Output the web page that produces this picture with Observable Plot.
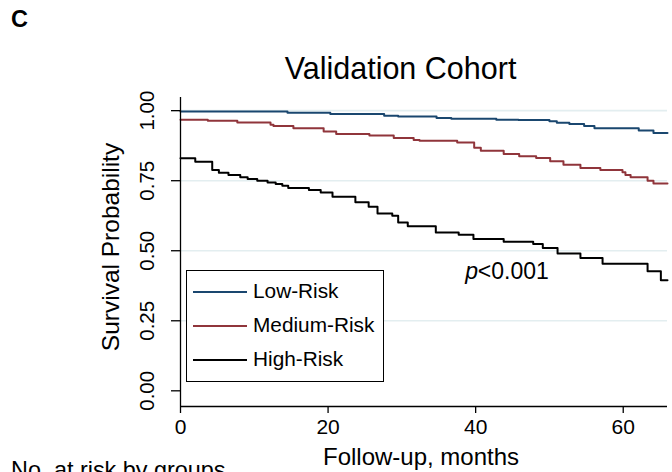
<!DOCTYPE html>
<html><head><meta charset="utf-8">
<script src="https://cdn.jsdelivr.net/npm/d3@7"></script>
<script src="https://cdn.jsdelivr.net/npm/@observablehq/plot@0.6"></script>
<style>
body{margin:0;background:#fff;}
#wrap{position:relative;width:672px;height:472px;overflow:hidden;font-family:"Liberation Sans",Arial,sans-serif;color:#000;}
.abs{position:absolute;white-space:nowrap;line-height:1;}
#legend{position:absolute;left:186px;top:270px;width:196px;height:110px;border:1.3px solid #000;background:#fff;}
.item{position:absolute;left:6px;height:21px;}
.sw{position:absolute;left:0;top:10px;width:54px;height:2px;}
.lt{position:absolute;left:60px;top:0;font-size:20.8px;line-height:1;white-space:nowrap;}
</style></head><body><div id="wrap"></div>
<script>
const panelLetter = "C";
const chartTitle = "Validation Cohort";
const yTitle = "Survival Probability";
const xTitle = "Follow-up, months";
const pText = "<0.001";
const footText = "No. at risk by groups";

const groups = ["Low-Risk", "Medium-Risk", "High-Risk"];
const groupColors = ["#1a476f", "#90353b", "#000000"];

const lowRiskMonths = [0, 14.5, 20.3, 27.6, 29.5, 34.7, 36.7, 42.8, 45.8, 50.0, 51.0, 52.7, 54.7, 56.1, 62.1, 64.1];
const lowRiskSurv   = [0.997, 0.993, 0.988, 0.982, 0.979, 0.974, 0.971, 0.968, 0.967, 0.962, 0.957, 0.952, 0.945, 0.937, 0.929, 0.920];

const medRiskMonths = [0, 3.7, 7.7, 12.2, 12.6, 15.3, 19.4, 21.1, 25.6, 28.9, 31.6, 32.4, 37.5, 39.8, 40.7, 43.8, 45.9, 48.2, 50.1, 51.9, 54.2, 56.9, 59.9, 60.3, 61.0, 63.3, 64.1];
const medRiskSurv   = [0.968, 0.964, 0.958, 0.950, 0.945, 0.937, 0.926, 0.917, 0.911, 0.902, 0.895, 0.893, 0.886, 0.868, 0.857, 0.845, 0.837, 0.831, 0.819, 0.807, 0.795, 0.788, 0.780, 0.770, 0.762, 0.750, 0.740];

const highRiskMonths = [0, 2.0, 4.3, 5.2, 6.5, 8.1, 9.1, 10.4, 11.8, 12.9, 13.8, 14.6, 17.4, 19.0, 20.6, 23.7, 25.5, 26.7, 28.7, 29.5, 30.8, 34.6, 37.7, 39.7, 43.8, 47.8, 49.1, 51.1, 54.2, 57.2, 63.3, 65.1];
const highRiskSurv   = [0.830, 0.818, 0.788, 0.778, 0.770, 0.762, 0.756, 0.750, 0.744, 0.738, 0.732, 0.724, 0.717, 0.708, 0.693, 0.673, 0.657, 0.633, 0.625, 0.601, 0.587, 0.565, 0.557, 0.542, 0.532, 0.524, 0.510, 0.490, 0.474, 0.454, 0.427, 0.395];

const followUpMax = 66;
const yTicks = [0, 0.25, 0.5, 0.75, 1];
const yTickLabels = ["0.00", "0.25", "0.50", "0.75", "1.00"];
const xTicks = [0, 20, 40, 60];
const yDomain = [-0.056, 1.047];
const pAt = {t: 38.6, s: 0.425};

const series = [[lowRiskMonths, lowRiskSurv], [medRiskMonths, medRiskSurv], [highRiskMonths, highRiskSurv]];
const rows = [];
series.forEach(([m, s], i) => {
  m.forEach((t, j) => rows.push({group: groups[i], t, s: s[j]}));
  rows.push({group: groups[i], t: followUpMax, s: s[s.length - 1]});
});

const font = '"Liberation Sans", Arial, sans-serif';
const plot = Plot.plot({
  width: 672, height: 472,
  marginLeft: 180, marginRight: 5, marginTop: 97, marginBottom: 66,
  style: {fontFamily: font, background: "transparent", color: "#000", overflow: "visible"},
  x: {domain: [0, followUpMax]},
  y: {domain: yDomain},
  color: {domain: groups, range: groupColors},
  marks: [
    Plot.gridY(yTicks.slice(1), {stroke: "#e3eef0", strokeOpacity: 1, strokeWidth: 1.6}),
    Plot.line(rows, {x: "t", y: "s", z: "group", stroke: "group", curve: "step-after", strokeWidth: 2}),
    Plot.ruleX([0], {stroke: "#000", strokeWidth: 1.3}),
    Plot.ruleY([yDomain[0]], {stroke: "#000", strokeWidth: 1.3}),
    Plot.axisY(yTicks, {tickSize: 9, tickRotate: -90, tickPadding: 18, fontSize: 20.5,
      tickFormat: (d) => yTickLabels[yTicks.indexOf(d)], label: null, stroke: "#000", strokeWidth: 1.3}),
    Plot.axisX(xTicks, {tickSize: 7, tickPadding: 6, fontSize: 21, label: null, stroke: "#000", strokeWidth: 1.3}),
    Plot.text([yTitle], {frameAnchor: "left", rotate: -90, dx: -62, dy: -5, fontSize: 24.5, textAnchor: "middle", lineAnchor: "bottom", text: (d) => d}),
    Plot.text([xTitle], {frameAnchor: "bottom", dx: -3, dy: 58, fontSize: 24, textAnchor: "middle", lineAnchor: "bottom", text: (d) => d}),
    Plot.text([pAt], {x: "t", y: "s", text: () => pText, textAnchor: "start", dx: 12.5, fontSize: 23, lineAnchor: "middle"}),
    Plot.text([pAt], {x: "t", y: "s", text: () => "p", textAnchor: "start", fontSize: 23, fontStyle: "italic", lineAnchor: "middle"})
  ]
});
plot.style.position = "absolute";
plot.style.left = "0px";
plot.style.top = "0px";

const wrap = document.getElementById("wrap");
wrap.appendChild(plot);

function addText(txt, left, baseline, fs, extra = {}) {
  const d = document.createElement("div");
  d.className = "abs";
  d.textContent = txt;
  d.style.fontSize = fs + "px";
  d.style.left = left + "px";
  d.style.top = (baseline - 0.8465 * fs) + "px";
  Object.assign(d.style, extra);
  wrap.appendChild(d);
  return d;
}
addText(panelLetter, 11, 27.5, 23.5, {fontWeight: "bold"});
addText(chartTitle, 400.5, 78.5, 30.5, {transform: "translateX(-50%)"});
addText(footText, 11, 479, 23.4);

const legend = document.createElement("div");
legend.id = "legend";
groups.forEach((g, i) => {
  const it = document.createElement("div");
  it.className = "item";
  it.style.top = (10 + i * 34) + "px";
  const sw = document.createElement("div");
  sw.className = "sw";
  sw.style.background = groupColors[i];
  const lt = document.createElement("div");
  lt.className = "lt";
  lt.textContent = g;
  it.appendChild(sw); it.appendChild(lt);
  legend.appendChild(it);
});
wrap.appendChild(legend);
</script></body></html>
